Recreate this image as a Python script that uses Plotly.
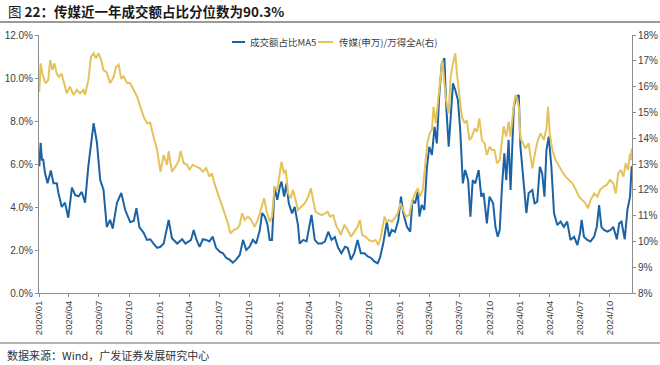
import plotly.graph_objects as go

# ---------------- data ----------------
blue_dates = [
    "2020-01-02", "2020-01-06", "2020-01-10", "2020-01-14", "2020-01-19", "2020-01-27", "2020-02-06",
    "2020-02-14", "2020-02-24", "2020-02-29", "2020-03-10", "2020-03-20", "2020-03-30", "2020-04-10",
    "2020-04-20", "2020-04-30", "2020-05-10", "2020-05-20", "2020-05-30", "2020-06-15", "2020-06-25",
    "2020-07-05", "2020-07-15", "2020-07-25", "2020-08-04", "2020-08-12", "2020-08-25", "2020-09-07",
    "2020-09-19", "2020-10-04", "2020-10-15", "2020-10-23", "2020-11-01", "2020-11-14", "2020-11-24",
    "2020-12-04", "2020-12-14", "2020-12-25", "2021-01-04", "2021-01-14", "2021-01-29", "2021-02-08",
    "2021-02-24", "2021-03-11", "2021-03-21", "2021-03-31", "2021-04-07", "2021-04-15", "2021-04-23",
    "2021-05-03", "2021-05-13", "2021-05-23", "2021-06-02", "2021-06-12", "2021-06-22", "2021-07-03",
    "2021-07-13", "2021-07-23", "2021-08-02", "2021-08-12", "2021-08-22", "2021-09-02", "2021-09-12",
    "2021-09-22", "2021-10-02", "2021-10-12", "2021-10-22", "2021-11-02", "2021-11-09", "2021-11-17",
    "2021-11-25", "2021-12-02", "2021-12-09", "2021-12-17", "2021-12-25", "2022-01-02", "2022-01-07",
    "2022-01-15", "2022-01-22", "2022-01-29", "2022-02-08", "2022-02-16", "2022-02-26", "2022-03-03",
    "2022-03-14", "2022-03-24", "2022-04-03", "2022-04-08", "2022-04-18", "2022-04-28", "2022-05-09",
    "2022-05-19", "2022-05-29", "2022-06-08", "2022-06-18", "2022-06-28", "2022-07-08", "2022-07-19",
    "2022-07-27", "2022-08-06", "2022-08-16", "2022-08-26", "2022-09-05", "2022-09-16", "2022-09-26",
    "2022-10-06", "2022-10-16", "2022-10-26", "2022-11-02", "2022-11-12", "2022-11-23", "2022-11-30",
    "2022-12-08", "2022-12-18", "2022-12-28", "2023-01-05", "2023-01-12", "2023-01-23", "2023-02-02",
    "2023-02-09", "2023-02-17", "2023-02-25", "2023-03-02", "2023-03-09", "2023-03-17", "2023-03-25",
    "2023-04-01", "2023-04-09", "2023-04-17", "2023-04-24", "2023-05-01", "2023-05-09", "2023-05-17",
    "2023-05-22", "2023-05-30", "2023-06-07", "2023-06-12", "2023-06-19", "2023-06-27", "2023-07-04",
    "2023-07-12", "2023-07-19", "2023-07-28", "2023-08-04", "2023-08-11", "2023-08-19", "2023-08-29",
    "2023-09-06", "2023-09-13", "2023-09-23", "2023-10-01", "2023-10-12", "2023-10-19", "2023-10-26",
    "2023-11-01", "2023-11-08", "2023-11-15", "2023-11-21", "2023-11-28", "2023-12-04", "2023-12-09",
    "2023-12-14", "2023-12-22", "2023-12-29", "2024-01-03", "2024-01-11", "2024-01-21", "2024-01-28",
    "2024-02-08", "2024-02-15", "2024-02-23", "2024-03-02", "2024-03-09", "2024-03-16", "2024-03-22",
    "2024-03-29", "2024-04-06", "2024-04-14", "2024-04-24", "2024-05-04", "2024-05-14", "2024-05-24",
    "2024-06-03", "2024-06-14", "2024-06-24", "2024-07-02", "2024-07-07", "2024-07-14", "2024-07-24",
    "2024-08-03", "2024-08-14", "2024-08-22", "2024-08-29", "2024-09-05", "2024-09-13", "2024-09-23",
    "2024-10-03", "2024-10-11", "2024-10-22", "2024-10-29", "2024-11-05", "2024-11-15", "2024-11-23",
    "2024-12-01", "2024-12-06",
]
blue_values = [
    5.9, 6.98, 6.2, 6.2, 5.6, 5.1, 5.7,
    5.1, 5.1, 4.65, 4.0, 4.2, 3.5, 4.9,
    4.55, 4.5, 4.7, 4.2, 5.9, 7.9, 7.0,
    5.25, 4.8, 3.07, 3.4, 3.0, 4.2, 4.65,
    3.86, 3.3, 3.35, 3.95, 3.07, 2.8, 2.47,
    2.5, 2.3, 2.1, 2.15, 2.3, 3.4, 2.55,
    2.3, 2.5, 2.3, 2.4, 2.47, 2.93, 2.5,
    2.15, 2.5, 2.47, 2.4, 2.62, 2.1, 1.92,
    1.85, 1.63, 1.55, 1.41, 1.55, 1.77, 2.47,
    2.0, 2.15, 2.47, 2.3, 2.93, 3.72, 3.56,
    3.2, 2.47, 2.47, 4.95, 4.33, 4.95, 5.18,
    4.48, 5.1, 4.17, 3.7, 4.0, 3.16, 2.3,
    2.47, 2.4, 3.24, 3.63, 2.47, 2.3, 2.3,
    2.4, 2.85, 2.47, 2.6, 2.1, 1.85, 2.15,
    2.1, 1.55, 1.85, 2.47, 1.85, 1.85, 1.7,
    1.63, 1.47, 1.38, 1.63, 2.3, 3.32, 2.62,
    2.93, 2.85, 3.4, 4.48, 3.72, 3.08, 2.85,
    4.33, 4.17, 4.71, 3.56, 4.1, 3.86, 5.87,
    6.8, 6.42, 7.73, 6.96, 9.13, 10.68, 10.92,
    8.82, 6.8, 8.67, 9.75, 9.44, 8.98, 7.58,
    5.1, 5.72, 5.25, 3.55, 5.25, 5.1, 5.72,
    4.48, 4.65, 3.24, 4.48, 4.17, 3.08, 2.62,
    2.93, 4.95, 6.5, 5.25, 7.12, 4.79, 7.12,
    8.67, 9.13, 9.2, 6.8, 5.57, 3.72, 4.65,
    4.79, 4.17, 4.25, 5.87, 5.57, 4.48, 6.65,
    7.27, 5.87, 3.72, 3.16, 3.32, 3.08, 3.32,
    2.47, 2.62, 2.23, 2.78, 3.4, 2.62, 2.47,
    2.4, 2.62, 3.08, 4.09, 3.08, 2.93, 2.85,
    2.93, 3.08, 2.5, 3.24, 3.32, 2.5, 3.86,
    4.48, 5.9,
]

gold_dates = [
    "2020-01-02", "2020-01-04", "2020-01-06", "2020-01-11", "2020-01-21", "2020-01-29", "2020-02-04",
    "2020-02-11", "2020-02-17", "2020-02-24", "2020-03-02", "2020-03-10", "2020-03-18", "2020-03-25",
    "2020-04-04", "2020-04-15", "2020-04-25", "2020-05-05", "2020-05-15", "2020-05-20", "2020-05-30",
    "2020-06-07", "2020-06-15", "2020-06-22", "2020-06-30", "2020-07-08", "2020-07-15", "2020-07-25",
    "2020-08-04", "2020-08-15", "2020-08-22", "2020-08-30", "2020-09-07", "2020-09-14", "2020-09-24",
    "2020-10-04", "2020-10-15", "2020-10-25", "2020-11-04", "2020-11-14", "2020-11-24", "2020-12-04",
    "2020-12-14", "2020-12-25", "2021-01-04", "2021-01-14", "2021-01-24", "2021-01-29", "2021-02-08",
    "2021-02-19", "2021-03-01", "2021-03-06", "2021-03-16", "2021-03-26", "2021-04-02", "2021-04-12",
    "2021-04-23", "2021-05-03", "2021-05-13", "2021-05-23", "2021-06-02", "2021-06-09", "2021-06-17",
    "2021-06-28", "2021-07-08", "2021-07-18", "2021-07-28", "2021-08-05", "2021-08-15", "2021-08-25",
    "2021-09-02", "2021-09-09", "2021-09-17", "2021-09-27", "2021-10-07", "2021-10-17", "2021-10-27",
    "2021-11-07", "2021-11-15", "2021-11-22", "2021-12-02", "2021-12-09", "2021-12-17", "2021-12-25",
    "2022-01-02", "2022-01-07", "2022-01-14", "2022-01-20", "2022-01-27", "2022-02-04", "2022-02-11",
    "2022-02-19", "2022-02-26", "2022-03-09", "2022-03-19", "2022-03-29", "2022-04-06", "2022-04-13",
    "2022-04-20", "2022-04-28", "2022-05-09", "2022-05-19", "2022-05-27", "2022-06-03", "2022-06-13",
    "2022-06-23", "2022-06-30", "2022-07-06", "2022-07-17", "2022-07-27", "2022-08-06", "2022-08-16",
    "2022-08-26", "2022-09-02", "2022-09-09", "2022-09-20", "2022-09-30", "2022-10-10", "2022-10-20",
    "2022-10-28", "2022-11-05", "2022-11-16", "2022-11-23", "2022-11-30", "2022-12-08", "2022-12-16",
    "2022-12-26", "2023-01-03", "2023-01-10", "2023-01-20", "2023-01-30", "2023-02-09", "2023-02-17",
    "2023-02-25", "2023-03-04", "2023-03-12", "2023-03-19", "2023-03-26", "2023-04-02", "2023-04-09",
    "2023-04-14", "2023-04-21", "2023-04-29", "2023-05-05", "2023-05-11", "2023-05-17", "2023-05-22",
    "2023-05-30", "2023-06-05", "2023-06-12", "2023-06-19", "2023-06-24", "2023-07-01", "2023-07-09",
    "2023-07-17", "2023-07-24", "2023-08-01", "2023-08-09", "2023-08-17", "2023-08-24", "2023-08-31",
    "2023-09-08", "2023-09-16", "2023-09-23", "2023-10-01", "2023-10-09", "2023-10-16", "2023-10-24",
    "2023-11-01", "2023-11-08", "2023-11-13", "2023-11-21", "2023-11-28", "2023-12-04", "2023-12-09",
    "2023-12-14", "2023-12-19", "2023-12-24", "2023-12-29", "2024-01-03", "2024-01-11", "2024-01-18",
    "2024-01-28", "2024-02-08", "2024-02-18", "2024-02-25", "2024-03-04", "2024-03-14", "2024-03-22",
    "2024-03-27", "2024-04-01", "2024-04-09", "2024-04-19", "2024-04-29", "2024-05-09", "2024-05-19",
    "2024-05-29", "2024-06-09", "2024-06-19", "2024-06-29", "2024-07-09", "2024-07-19", "2024-07-26",
    "2024-08-03", "2024-08-14", "2024-08-24", "2024-09-01", "2024-09-11", "2024-09-21", "2024-10-01",
    "2024-10-11", "2024-10-19", "2024-10-26", "2024-11-03", "2024-11-11", "2024-11-18", "2024-11-25",
    "2024-12-01", "2024-12-05", "2024-12-06",
]
gold_values = [
    15.8, 16.64, 16.9, 16.5, 16.13, 16.25, 17.03,
    16.64, 16.9, 16.5, 16.38, 16.5, 16.13, 15.74,
    16.0, 15.68, 15.87, 15.74, 15.87, 15.68, 16.25,
    17.16, 17.29, 17.1, 17.29, 17.03, 16.64, 16.55,
    16.13, 16.38, 16.77, 16.85, 16.3, 16.4, 16.15,
    16.13, 15.87, 15.61, 15.22, 14.83, 14.58, 14.6,
    14.06, 13.54, 12.7, 13.35, 12.97, 13.5, 12.7,
    12.9, 13.15, 13.5, 13.03, 12.97, 12.77, 12.97,
    12.9, 12.84, 12.7, 12.84, 12.51, 12.64, 12.25,
    11.86, 11.48, 11.09, 10.7, 10.31, 10.44, 10.5,
    10.64, 11.09, 10.83, 10.96, 10.83, 10.57, 10.83,
    11.35, 11.67, 11.22, 10.76, 10.96, 12.12, 12.0,
    12.64, 13.09, 12.64, 12.77, 11.86, 11.67, 12.0,
    11.6, 11.22, 11.35, 11.48, 11.73, 12.06, 11.6,
    11.15, 11.09, 11.02, 11.09, 11.15, 10.96, 11.02,
    10.57, 10.44, 10.25, 10.64, 10.44, 10.18, 10.37,
    10.57, 10.83, 10.25, 10.18, 10.05, 10.0, 10.05,
    9.86, 10.18, 10.96, 10.76, 10.83, 10.76, 10.89,
    11.09, 11.48, 11.28, 10.96, 11.02, 11.6, 11.86,
    12.06, 11.73, 12.0, 12.9, 13.8, 14.19, 14.32,
    15.22, 14.58, 15.61, 16.38, 17.03, 16.13, 15.48,
    14.96, 16.38, 16.9, 17.29, 16.5, 15.61, 14.83,
    14.58, 14.7, 13.93, 14.06, 14.38, 14.25, 14.77,
    13.93, 13.8, 13.35, 13.67, 13.54, 13.54, 13.03,
    13.15, 13.93, 14.45, 14.06, 14.64, 14.06, 14.7,
    15.29, 15.67, 15.55, 15.22, 13.99, 13.8, 13.6,
    13.8, 12.83, 13.54, 13.93, 14.19, 13.93, 14.38,
    15.22, 14.19, 13.54, 13.15, 12.9, 12.7, 12.51,
    12.38, 12.25, 12.0, 11.73, 11.6, 11.48, 11.28,
    11.6, 11.86, 11.73, 12.0, 12.12, 12.19, 12.38,
    12.25, 11.86, 12.64, 12.77, 12.51, 13.03, 12.77,
    13.41, 13.15, 13.6,
]

series_names = ["成交额占比MA5", "传媒(申万)/万得全A(右)"]
tick_dates = ["2020-01-01", "2020-04-01", "2020-07-01", "2020-10-01",
              "2021-01-01", "2021-04-01", "2021-07-01", "2021-10-01",
              "2022-01-01", "2022-04-01", "2022-07-01", "2022-10-01",
              "2023-01-01", "2023-04-01", "2023-07-01", "2023-10-01",
              "2024-01-01", "2024-04-01", "2024-07-01", "2024-10-01"]
tick_labels = [d[:4] + "/" + d[5:7] for d in tick_dates]
left_ticks = [0, 2, 4, 6, 8, 10, 12]
left_labels = ["0.0%", "2.0%", "4.0%", "6.0%", "8.0%", "10.0%", "12.0%"]
right_ticks = [8, 9, 10, 11, 12, 13, 14, 15, 16, 17, 18]
right_labels = [f"{t}%" for t in right_ticks]

title_text = "图 <b>22：传媒近一年成交额占比分位数为90.3%</b>"
source_text = "数据来源：Wind，广发证券发展研究中心"

# ---------------- styling ----------------
W, H = 660, 365
ML, MR, MT, MB = 39, 28, 35, 72
PW, PH = W - ML - MR, H - MT - MB
BLUE = "#1b63a5"
GOLD = "#e5c35b"
AX = "#8c8c8c"
TXT = "#404040"
FONT = "Liberation Sans, Noto Sans CJK SC, sans-serif"
CJK = "Noto Sans CJK SC, sans-serif"


def px_x(px):
    return (px - ML) / PW


def px_y(py):
    return (H - MB - py) / PH


fig = go.Figure()
fig.add_trace(go.Scatter(x=blue_dates, y=blue_values, name=series_names[0], mode="lines",
                         line=dict(color=BLUE, width=2), yaxis="y"))
fig.add_trace(go.Scatter(x=gold_dates, y=gold_values, name=series_names[1], mode="lines",
                         line=dict(color=GOLD, width=2), yaxis="y2"))

fig.update_layout(
    width=W, height=H,
    margin=dict(l=ML, r=MR, t=MT, b=MB, pad=0, autoexpand=False),
    paper_bgcolor="white", plot_bgcolor="white",
    font=dict(family=FONT, size=10, color=TXT),
    showlegend=False,
    xaxis=dict(type="date", range=["2020-01-01", "2024-12-07"], automargin=False,
               tickmode="array", tickvals=tick_dates, ticktext=tick_labels,
               tickangle=-90, tickfont=dict(size=9.5, color=TXT),
               showgrid=False, zeroline=False, showline=True, linecolor=AX, linewidth=1,
               ticks="outside", ticklen=3, tickcolor=AX),
    yaxis=dict(range=[0, 12], tickmode="array", tickvals=left_ticks, ticktext=left_labels,
               automargin=False,
               tickfont=dict(size=10, color=TXT), showgrid=False, zeroline=False,
               showline=True, linecolor=AX, linewidth=1, ticks="outside", ticklen=3, tickcolor=AX),
    yaxis2=dict(range=[8, 18], overlaying="y", side="right", tickmode="array",
                tickvals=right_ticks, ticktext=right_labels, automargin=False,
                tickfont=dict(size=10, color=TXT), showgrid=False, zeroline=False,
                showline=True, linecolor=AX, linewidth=1, ticks="outside", ticklen=3, tickcolor=AX),
)

# manual legend (short line swatches like the reference)
legend_items = [(series_names[0], BLUE, 232, 245, 248), (series_names[1], GOLD, 318, 333, 337)]
for name, col, lx0, lx1, tx in legend_items:
    fig.add_shape(type="line", xref="paper", yref="paper", x0=px_x(lx0), x1=px_x(lx1),
                  y0=px_y(42), y1=px_y(42), line=dict(color=col, width=2))
    fig.add_annotation(text=name, xref="paper", yref="paper", x=px_x(tx), y=px_y(42),
                       xanchor="left", yanchor="middle", showarrow=False,
                       font=dict(size=9.5, color=TXT, family=CJK))

fig.add_annotation(text=title_text, xref="paper", yref="paper", x=px_x(6), y=px_y(11),
                   xanchor="left", yanchor="middle", showarrow=False,
                   font=dict(size=13.5, color="#1a1a1a", family=CJK))
fig.add_annotation(text=source_text, xref="paper", yref="paper", x=px_x(5), y=px_y(355),
                   xanchor="left", yanchor="middle", showarrow=False,
                   font=dict(size=11, color="#333333", family=CJK))
fig.add_shape(type="line", xref="paper", yref="paper", x0=px_x(0), x1=px_x(W), y0=px_y(22), y1=px_y(22),
              line=dict(color="#9a9a9a", width=2))
fig.add_shape(type="line", xref="paper", yref="paper", x0=px_x(0), x1=px_x(W), y0=px_y(343), y1=px_y(343),
              line=dict(color="#9a9a9a", width=1.5))

fig.write_html("out.html", config={"displayModeBar": False},
               post_script="document.body.style.margin='0';")
